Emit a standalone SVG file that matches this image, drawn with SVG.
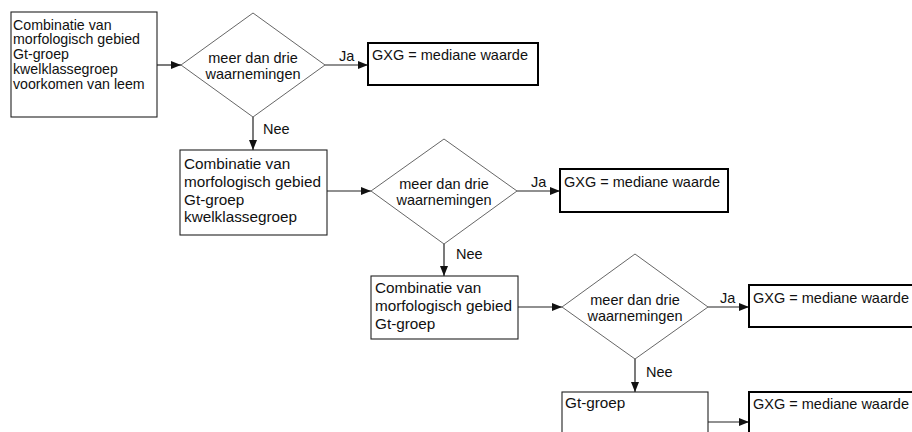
<svg xmlns="http://www.w3.org/2000/svg" width="912" height="432" viewBox="0 0 912 432">
<style>
  text { font-family: "Liberation Sans", Arial, sans-serif; fill: #111; }
  .bt { font-size: 15.3px; }
  .bt1 { font-size: 14.2px; }
  .dt { font-size: 14.5px; text-anchor: middle; }
  .lt { font-size: 14.5px; }
  .box { fill: #fff; stroke: #222; stroke-width: 1.1; }
  .res { fill: #fff; stroke: #000; stroke-width: 2; }
  .dia { fill: #fff; stroke: #555; stroke-width: 0.9; }
  .con { stroke: #222; stroke-width: 1.2; fill: none; marker-end: url(#ah); }
</style>
<defs>
  <marker id="ah" viewBox="0 0 10 8" refX="10" refY="4" markerWidth="10" markerHeight="8" markerUnits="userSpaceOnUse" orient="auto">
    <path d="M0,0 L10,4 L0,8 Z" fill="#111"/>
  </marker>
</defs>
<rect width="912" height="432" fill="#fff"/>

<g id="connectors">
  <line class="con" x1="157" y1="65" x2="181" y2="65"/>
  <line class="con" x1="325" y1="65" x2="368" y2="65"/>
  <line class="con" x1="253" y1="117" x2="253" y2="150"/>
  <line class="con" x1="327" y1="191" x2="371" y2="191"/>
  <line class="con" x1="517" y1="191" x2="560" y2="191"/>
  <line class="con" x1="444" y1="244" x2="444" y2="276"/>
  <line class="con" x1="518" y1="307" x2="562" y2="307"/>
  <line class="con" x1="708" y1="307" x2="749" y2="307"/>
  <line class="con" x1="635" y1="359" x2="635" y2="392"/>
  <line class="con" x1="708" y1="422" x2="749" y2="422"/>
  <text class="lt" x="339" y="61">Ja</text>
  <text class="lt" x="531" y="187">Ja</text>
  <text class="lt" x="720" y="303">Ja</text>
  <text class="lt" x="263" y="134">Nee</text>
  <text class="lt" x="456" y="259">Nee</text>
  <text class="lt" x="646" y="377">Nee</text>
</g>

<g id="box1">
  <rect class="box" x="11" y="12" width="146" height="105"/>
  <text class="bt1" x="13" y="29.5">Combinatie van</text>
  <text class="bt1" x="13" y="44.3">morfologisch gebied</text>
  <text class="bt1" x="13" y="59.1">Gt-groep</text>
  <text class="bt1" x="13" y="73.9">kwelklassegroep</text>
  <text class="bt1" x="13" y="88.7">voorkomen van leem</text>
</g>

<g id="decision1">
  <polygon class="dia" points="253,13 325,65 253,117 181,65"/>
  <text class="dt" x="253" y="63">meer dan drie</text>
  <text class="dt" x="253" y="79">waarnemingen</text>
</g>

<g id="result1">
  <rect class="res" x="368" y="43" width="170" height="42"/>
  <text class="lt" x="372" y="60">GXG = mediane waarde</text>
</g>

<g id="box2">
  <rect class="box" x="180" y="150" width="147" height="85"/>
  <text class="bt" x="184" y="169">Combinatie van</text>
  <text class="bt" x="184" y="187">morfologisch gebied</text>
  <text class="bt" x="184" y="204.5">Gt-groep</text>
  <text class="bt" x="184" y="222">kwelklassegroep</text>
</g>

<g id="decision2">
  <polygon class="dia" points="444,139 517,191 444,244 371,191"/>
  <text class="dt" x="444" y="189">meer dan drie</text>
  <text class="dt" x="444" y="205">waarnemingen</text>
</g>

<g id="result2">
  <rect class="res" x="560" y="169" width="168" height="43"/>
  <text class="lt" x="564" y="187">GXG = mediane waarde</text>
</g>

<g id="box3">
  <rect class="box" x="371" y="276" width="147" height="63"/>
  <text class="bt" x="375" y="293">Combinatie van</text>
  <text class="bt" x="375" y="311">morfologisch gebied</text>
  <text class="bt" x="375" y="329">Gt-groep</text>
</g>

<g id="decision3">
  <polygon class="dia" points="635,254 708,307 635,359 562,307"/>
  <text class="dt" x="635" y="305">meer dan drie</text>
  <text class="dt" x="635" y="321">waarnemingen</text>
</g>

<g id="result3">
  <rect class="res" x="749" y="285" width="172" height="42"/>
  <text class="lt" x="753" y="303">GXG = mediane waarde</text>
</g>

<g id="box4">
  <rect class="box" x="562" y="392" width="146" height="50"/>
  <text class="bt" x="565" y="408">Gt-groep</text>
</g>

<g id="result4">
  <rect class="res" x="749" y="392" width="172" height="50"/>
  <text class="lt" x="753" y="409">GXG = mediane waarde</text>
</g>
</svg>
